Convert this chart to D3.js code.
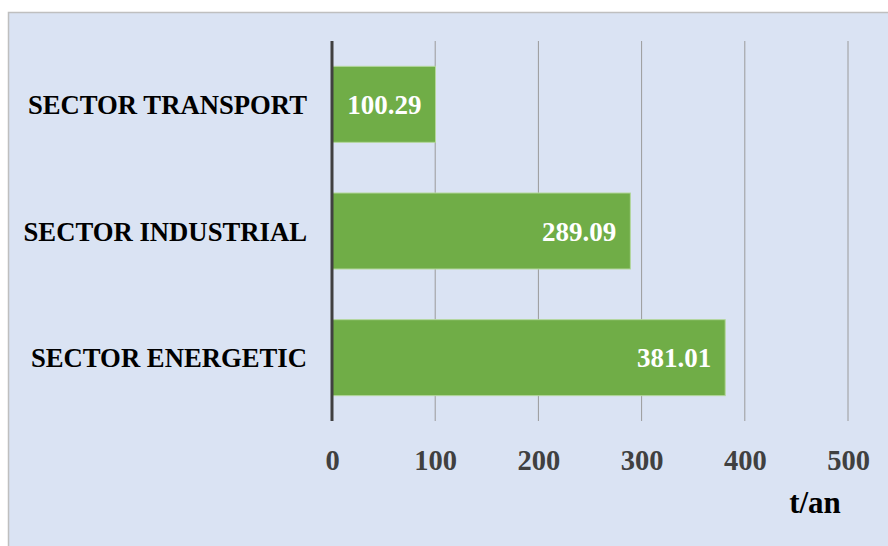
<!DOCTYPE html>
<html><head><meta charset="utf-8">
<script src="https://cdn.jsdelivr.net/npm/d3@7"></script>
<style>html,body{margin:0;padding:0;background:#fff;}svg{display:block;}</style>
</head><body>
<script>
const categories = ["SECTOR TRANSPORT", "SECTOR INDUSTRIAL", "SECTOR ENERGETIC"];
const values = [100.29, 289.09, 381.01];
const tickValues = [0, 100, 200, 300, 400, 500];
const axisTitle = "t/an";

const W = 888, H = 546;
const svg = d3.select("body").append("svg").attr("width", W).attr("height", H);
const font = "'Liberation Serif','Times New Roman',serif";

svg.append("rect").attr("x", 8.5).attr("y", 12.5).attr("width", W).attr("height", H)
  .attr("fill", "#DAE3F3").attr("stroke", "#BFBFBF").attr("stroke-width", 1.5);

const x = d3.scaleLinear().domain([0, 500]).range([332, 848]);
const y = d3.scaleBand().domain(categories).range([41, 421]).paddingInner(0.4).paddingOuter(0.2);

// gridlines
svg.append("g").selectAll("line").data(tickValues.slice(1)).join("line")
  .attr("x1", d => x(d)).attr("x2", d => x(d)).attr("y1", 41).attr("y2", 421)
  .attr("stroke", "#9A9A9A").attr("stroke-width", 1);

// bars
svg.append("g").selectAll("rect").data(values).join("rect")
  .attr("x", x(0)).attr("y", (d, i) => y(categories[i]))
  .attr("width", d => x(d) - x(0)).attr("height", y.bandwidth())
  .attr("fill", "#70AD47").attr("stroke", "#B4D79C").attr("stroke-width", 1);

// axis line
svg.append("line").attr("x1", x(0)).attr("x2", x(0)).attr("y1", 41).attr("y2", 421)
  .attr("stroke", "#404040").attr("stroke-width", 3);

// value labels
svg.append("g").selectAll("text").data(values).join("text")
  .attr("x", d => x(d) - 14).attr("y", (d, i) => y(categories[i]) + y.bandwidth() / 2)
  .attr("dy", "0.36em").attr("text-anchor", "end")
  .attr("font-family", font).attr("font-weight", "bold").attr("font-size", 27)
  .attr("fill", "#FFFFFF").text(d => d.toFixed(2));

// category labels
svg.append("g").selectAll("text").data(categories).join("text")
  .attr("x", 307).attr("y", d => y(d) + y.bandwidth() / 2)
  .attr("dy", "0.36em").attr("text-anchor", "end")
  .attr("font-family", font).attr("font-weight", "bold").attr("font-size", 26.7)
  .attr("fill", "#000").text(d => d);

// x axis tick labels
const xAxis = d3.axisBottom(x).tickValues(tickValues).tickSize(0).tickPadding(0).tickFormat(d3.format("d"));
const gx = svg.append("g").attr("transform", "translate(0,470)").call(xAxis);
gx.select(".domain").remove();
gx.selectAll("text").attr("dy", 0).attr("y", 0)
  .attr("font-family", font).attr("font-weight", "bold").attr("font-size", 28.5).attr("fill", "#404040");

svg.append("text").attr("x", 815).attr("y", 513).attr("text-anchor", "middle")
  .attr("font-family", font).attr("font-weight", "bold").attr("font-size", 31)
  .attr("fill", "#000").text(axisTitle);
</script>
</body></html>
